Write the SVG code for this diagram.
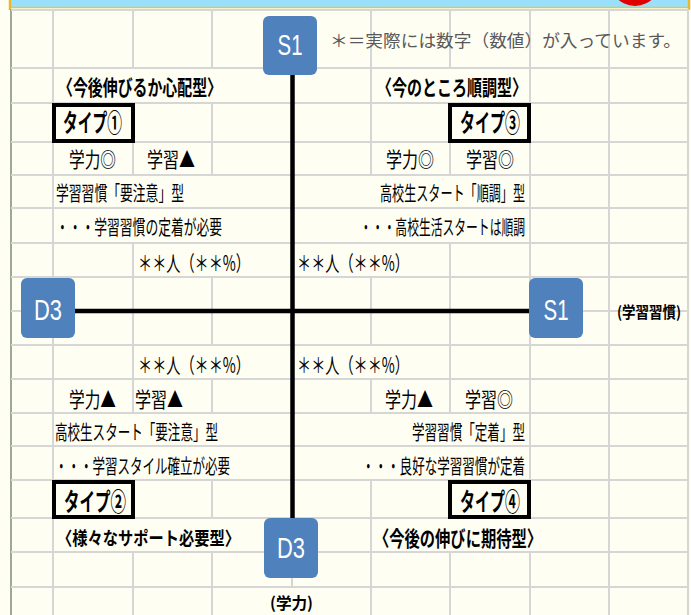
<svg xmlns="http://www.w3.org/2000/svg" width="691" height="615" viewBox="0 0 691 615">
<defs>
<style>
.g{stroke:#d6d6d6;stroke-width:2;fill:none}
.ax{stroke:#000;stroke-width:4.5;fill:none}
.bx{fill:#4f81bd}
.bt{font-family:"Liberation Sans",Arial,sans-serif;font-size:29px;fill:#fff;text-anchor:middle}
.t{font-family:"Noto Sans CJK JP","Noto Sans",sans-serif;font-size:20px;fill:#000}
.b{font-family:"Noto Sans CJK JP","Noto Sans",sans-serif;font-size:21px;font-weight:bold;fill:#000}
.k{font-family:"Noto Sans CJK JP","Noto Sans",sans-serif;font-size:25px;font-weight:bold;fill:#000}
.m{font-family:"Noto Sans CJK JP","Noto Sans",sans-serif;font-size:21px;fill:#000}
.tb{fill:none;stroke:#000;stroke-width:4}
</style>
</defs>
<rect width="691" height="615" fill="#fefef3"/>
<g id="topbar">
<rect x="11" y="0" width="678" height="8" fill="#9be0fb"/>
<ellipse cx="635" cy="-26" rx="28" ry="32" fill="#e00000"/>
<line x1="11" y1="7.5" x2="689" y2="7.5" stroke="#e2c84a" stroke-width="1.5"/>
<line x1="10" y1="0" x2="10" y2="10" stroke="#e8b830" stroke-width="2.5"/>
<line x1="689" y1="0" x2="689" y2="10" stroke="#e8b830" stroke-width="2.5"/>
<line x1="11" y1="9" x2="11" y2="615" stroke="#7d8a7d" stroke-width="1.5"/>
</g>
<g id="grid" class="g">
<path d="M11 10H689M11 68H689M11 103H689M11 142H689M11 175H689M11 208H689M11 243H689M11 277H689M11 311H689M11 345H689M11 379H689M11 413H689M11 446H689M11 480H689M11 518H689M11 552H689M11 587H689"/>
<path d="M53 10V615M609 10V615M688 10V615"/>
<path d="M133 10V68M212 10V68M371 10V68M450 10V68M530 10V68"/>
<path d="M371 68V103M530 68V103"/>
<path d="M133 103V175M212 103V175M371 103V175M450 103V175M530 103V175"/>
<path d="M530 175V243"/>
<path d="M133 243V277M450 243V277M530 243V277"/>
<path d="M133 277V345M212 277V345M371 277V345M450 277V345M530 277V345"/>
<path d="M133 345V379M450 345V379M530 345V379"/>
<path d="M133 379V413M212 379V413M371 379V413M450 379V413M530 379V413"/>
<path d="M530 413V480"/>
<path d="M133 480V518M212 480V518M371 480V518M450 480V518M530 480V518"/>
<path d="M371 518V552"/>
<path d="M133 552V615M212 552V615M292 552V587M371 552V615M450 552V615M530 552V615"/>
</g>
<g id="connectors">
<line class="ax" x1="292.5" y1="72" x2="292.5" y2="520"/>
<line class="ax" x1="74" y1="311" x2="530" y2="311"/>
</g>
<g id="note">
<text x="330" y="46.5" font-family="Noto Sans CJK JP,sans-serif" font-size="17" fill="#595959" textLength="351" lengthAdjust="spacingAndGlyphs">＊＝実際には数字（数値）が入っています。</text>
</g>
<g id="node-S1-top">
<rect class="bx" x="263" y="16" width="54" height="59" rx="6"/>
<text class="bt" x="290" y="55" textLength="25" lengthAdjust="spacingAndGlyphs">S1</text>
</g>
<g id="node-D3-left">
<rect class="bx" x="21" y="278" width="54" height="60" rx="6"/>
<text class="bt" x="48" y="320" textLength="28" lengthAdjust="spacingAndGlyphs">D3</text>
</g>
<g id="node-S1-right">
<rect class="bx" x="529" y="278" width="54" height="60" rx="6"/>
<text class="bt" x="556" y="320" textLength="25" lengthAdjust="spacingAndGlyphs">S1</text>
</g>
<g id="node-D3-bottom">
<rect class="bx" x="264" y="518" width="54" height="60" rx="6"/>
<text class="bt" x="291" y="558" textLength="28" lengthAdjust="spacingAndGlyphs">D3</text>
</g>
<g id="axis-labels">
<text class="b" style="font-size:15.5px" x="617" y="317.5" textLength="64" lengthAdjust="spacingAndGlyphs">(学習習慣)</text>
<text class="b" style="font-size:16px" x="270" y="609" textLength="43" lengthAdjust="spacingAndGlyphs">(学力)</text>
</g>
<g id="type1">
<text class="b" x="58" y="95" textLength="164" lengthAdjust="spacingAndGlyphs">〈今後伸びるか心配型〉</text>
<rect class="tb" x="54" y="105" width="79" height="36"/>
<text class="k" x="63" y="131.5" textLength="59" lengthAdjust="spacingAndGlyphs">タイプ①</text>
<text class="m" x="69" y="167" textLength="47" lengthAdjust="spacingAndGlyphs">学力◎</text>
<text class="m" x="147" y="167" textLength="48" lengthAdjust="spacingAndGlyphs">学習▲</text>
<text class="t" x="56" y="201" textLength="128" lengthAdjust="spacingAndGlyphs">学習習慣「要注意」型</text>
<text class="t" x="56" y="235" textLength="166" lengthAdjust="spacingAndGlyphs">・・・学習習慣の定着が必要</text>
<text class="m" x="138" y="270.5" textLength="112" lengthAdjust="spacingAndGlyphs">＊＊人（＊＊%）</text>
</g>
<g id="type3">
<text class="b" x="377" y="95" textLength="150" lengthAdjust="spacingAndGlyphs">〈今のところ順調型〉</text>
<rect class="tb" x="450" y="105" width="79" height="36"/>
<text class="k" x="460" y="131.5" textLength="60" lengthAdjust="spacingAndGlyphs">タイプ③</text>
<text class="m" x="386" y="167" textLength="48" lengthAdjust="spacingAndGlyphs">学力◎</text>
<text class="m" x="466" y="167" textLength="48" lengthAdjust="spacingAndGlyphs">学習◎</text>
<text class="t" x="380" y="201" textLength="145" lengthAdjust="spacingAndGlyphs">高校生スタート「順調」型</text>
<text class="t" x="360" y="235" textLength="165" lengthAdjust="spacingAndGlyphs">・・・高校生活スタートは順調</text>
<text class="m" x="297" y="270.5" textLength="112" lengthAdjust="spacingAndGlyphs">＊＊人（＊＊%）</text>
</g>
<g id="type2">
<text class="m" x="138" y="372.5" textLength="112" lengthAdjust="spacingAndGlyphs">＊＊人（＊＊%）</text>
<text class="m" x="69" y="407" textLength="47" lengthAdjust="spacingAndGlyphs">学力▲</text>
<text class="m" x="135" y="407" textLength="48" lengthAdjust="spacingAndGlyphs">学習▲</text>
<text class="t" x="55" y="440" textLength="163" lengthAdjust="spacingAndGlyphs">高校生スタート「要注意」型</text>
<text class="t" x="55" y="473.5" textLength="175" lengthAdjust="spacingAndGlyphs">・・・学習スタイル確立が必要</text>
<rect class="tb" x="54" y="482" width="79" height="35"/>
<text class="k" x="64" y="511" textLength="62" lengthAdjust="spacingAndGlyphs">タイプ②</text>
<text class="b" style="font-size:18.5px" x="57" y="545" textLength="183" lengthAdjust="spacingAndGlyphs">〈様々なサポート必要型〉</text>
</g>
<g id="type4">
<text class="m" x="297" y="372.5" textLength="112" lengthAdjust="spacingAndGlyphs">＊＊人（＊＊%）</text>
<text class="m" x="385" y="407" textLength="48" lengthAdjust="spacingAndGlyphs">学力▲</text>
<text class="m" x="465" y="407" textLength="48" lengthAdjust="spacingAndGlyphs">学習◎</text>
<text class="t" x="412" y="440" textLength="113" lengthAdjust="spacingAndGlyphs">学習習慣「定着」型</text>
<text class="t" x="362" y="473.5" textLength="163" lengthAdjust="spacingAndGlyphs">・・・良好な学習習慣が定着</text>
<rect class="tb" x="450" y="482" width="79" height="35"/>
<text class="k" x="460" y="511" textLength="60" lengthAdjust="spacingAndGlyphs">タイプ④</text>
<text class="b" x="374" y="546" textLength="168" lengthAdjust="spacingAndGlyphs">〈今後の伸びに期待型〉</text>
</g>
</svg>
